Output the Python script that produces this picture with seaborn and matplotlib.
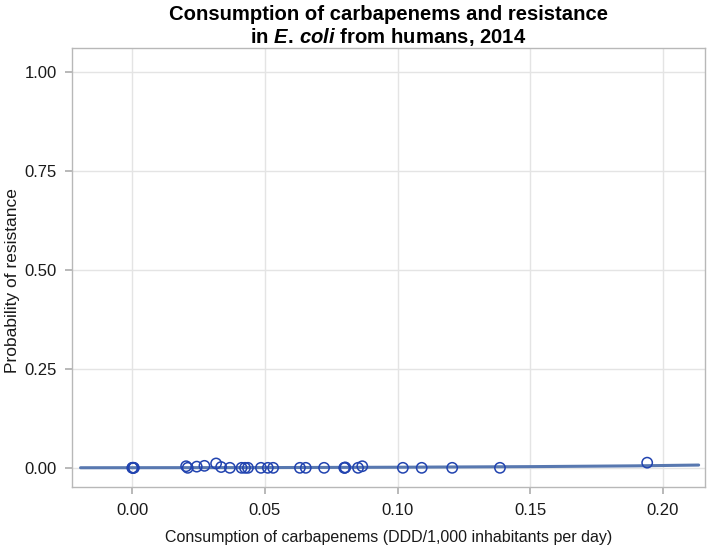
import numpy as np
import pandas as pd
import matplotlib
matplotlib.use("Agg")
import matplotlib.pyplot as plt
import seaborn as sns

# observed countries: consumption vs resistance
consumption = [0.0000, 0.0002, 0.0004, 0.0006, 0.0203, 0.0209, 0.0243, 0.0272,
               0.0316, 0.0335, 0.0368, 0.0412, 0.0425, 0.0436, 0.0485, 0.0511,
               0.0531, 0.0632, 0.0654, 0.0723, 0.0799, 0.0801, 0.0803, 0.0851,
               0.0867, 0.1020, 0.1091, 0.1206, 0.1386, 0.1941]
resistance = [0.000, 0.000, 0.000, 0.000, 0.004, 0.000, 0.003, 0.005,
              0.011, 0.002, 0.000, 0.000, 0.000, 0.000, 0.000, 0.000,
              0.000, 0.000, 0.000, 0.000, 0.000, 0.000, 0.001, 0.000,
              0.004, 0.000, 0.000, 0.000, 0.000, 0.013]

# fitted logistic curve
fit_x = [-0.0195, 0.05, 0.10, 0.15, 0.19, 0.2135]
fit_y = [0.0002, 0.0006, 0.0015, 0.003, 0.005, 0.007]

x_ticks = [0.00, 0.05, 0.10, 0.15, 0.20]
y_ticks = [0.00, 0.25, 0.50, 0.75, 1.00]

pts = pd.DataFrame({"consumption": consumption, "resistance": resistance})
fit = pd.DataFrame({"x": fit_x, "y": fit_y})

sns.set_theme(style="whitegrid")
plt.rcParams["font.family"] = ["Liberation Sans", "DejaVu Sans"]
plt.rcParams["mathtext.fontset"] = "custom"
plt.rcParams["mathtext.it"] = "Liberation Sans:italic:bold"
plt.rcParams["mathtext.rm"] = "Liberation Sans:bold"

fig, ax = plt.subplots(figsize=(7.09, 5.45), dpi=100)
fig.subplots_adjust(left=0.102, right=0.994, top=0.912, bottom=0.106)

sns.lineplot(data=fit, x="x", y="y", ax=ax, color="#5878b0", linewidth=2.2)
sns.scatterplot(data=pts, x="consumption", y="resistance", ax=ax,
                facecolor="none", edgecolor="#2244b0", linewidth=1.1, s=55,
                marker="o", zorder=3)

ax.set_xlim(-0.0226, 0.2158)
ax.set_ylim(-0.049, 1.06)
ax.set_xticks(x_ticks)
ax.set_yticks(y_ticks)
ax.set_xticklabels([f"{t:.2f}" for t in x_ticks])
ax.set_yticklabels([f"{t:.2f}" for t in y_ticks])
ax.grid(True, color="#e4e4e4", linewidth=1)
for s in ax.spines.values():
    s.set_color("#b8b8b8")
    s.set_linewidth(1)
ax.tick_params(axis="both", which="both", length=5, color="#b0b0b0",
               labelsize=12, labelcolor="#1a1a1a", bottom=True, left=True,
               direction="out", pad=6)

ax.set_xlabel("Consumption of carbapenems (DDD/1,000 inhabitants per day)",
              fontsize=11.5, labelpad=9, color="#1a1a1a")
ax.set_ylabel("Probability of resistance", fontsize=12.5, color="#1a1a1a")
ax.yaxis.set_label_coords(-0.083, 0.47)
ax.set_title("Consumption of carbapenems and resistance\n"
             r"in $\it{E.\,coli}$ from humans, 2014",
             fontsize=14.6, fontweight="bold", pad=3, linespacing=1.13,
             color="black")

fig.savefig("out.png", dpi=100)
